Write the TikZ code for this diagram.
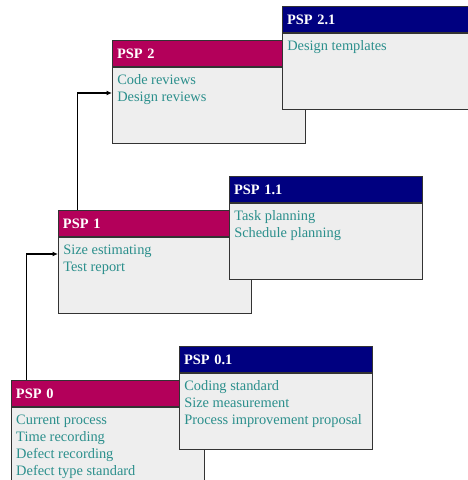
\documentclass[tikz,border=0pt]{standalone}
\usepackage{fontspec}
\setmainfont{Liberation Serif}
\usetikzlibrary{arrows.meta,calc}

\definecolor{pspred}{HTML}{B3005A}
\definecolor{pspblue}{HTML}{000080}
\definecolor{pspbody}{HTML}{EEEEEE}
\definecolor{pspitem}{HTML}{2B8F8C}
\definecolor{pspline}{HTML}{333333}

\begin{document}
\begin{tikzpicture}[
  x=1pt, y=-1pt,
  head/.style={draw=pspline, line width=1pt, anchor=north west, text width=184pt,
               inner xsep=4.5pt, minimum height=26pt, align=left, text=white,
               font=\fontsize{14.4}{16}\selectfont\bfseries},
  mainhead/.style={head, fill=pspred},
  subhead/.style={head, fill=pspblue},
  body/.style={draw=pspline, line width=1pt, fill=pspbody, anchor=north west,
               text width=184pt, inner xsep=4.5pt, minimum height=76pt},
  items/.style={anchor=north west, align=left, inner sep=0pt, text=pspitem,
                font=\fontsize{14.4}{17}\selectfont},
  >={Latex[length=5.5pt,width=5pt]}, line width=1.1pt
]
  \useasboundingbox (0,0) rectangle (467,480);

  % level 0
  \node[mainhead] (psp0)      at (11,380)           {PSP 0};
  \node[body]     (psp0body)  at (psp0.south west)  {};
  \node[items]    (psp0list)  at ($(psp0body.north west)+(4.7,7.3)$)
    {Current process\\Time recording\\Defect recording\\Defect type standard};
  \node[subhead]  (psp01)     at (179,346)          {PSP 0.1};
  \node[body]     (psp01body) at (psp01.south west) {};
  \node[items]    (psp01list) at ($(psp01body.north west)+(4.7,7.3)$)
    {Coding standard\\Size measurement\\Process improvement proposal};

  % level 1
  \node[mainhead] (psp1)      at (58,210)           {PSP 1};
  \node[body]     (psp1body)  at (psp1.south west)  {};
  \node[items]    (psp1list)  at ($(psp1body.north west)+(4.7,7.3)$)
    {Size estimating\\Test report};
  \node[subhead]  (psp11)     at (229,176)          {PSP 1.1};
  \node[body]     (psp11body) at (psp11.south west) {};
  \node[items]    (psp11list) at ($(psp11body.north west)+(4.7,7.3)$)
    {Task planning\\Schedule planning};

  % level 2
  \node[mainhead] (psp2)      at (112,40)           {PSP 2};
  \node[body]     (psp2body)  at (psp2.south west)  {};
  \node[items]    (psp2list)  at ($(psp2body.north west)+(4.7,7.3)$)
    {Code reviews\\Design reviews};
  \node[subhead]  (psp21)     at (282,6)            {PSP 2.1};
  \node[body]     (psp21body) at (psp21.south west) {};
  \node[items]    (psp21list) at ($(psp21body.north west)+(4.7,7.3)$)
    {Design templates};

  % steps up
  \draw[->] ([xshift=15.7pt]psp0.north west) |- ([yshift=-17pt]psp1body.north west);
  \draw[->] ([xshift=19.7pt]psp1.north west) |- ([yshift=-26pt]psp2body.north west);
\end{tikzpicture}
\end{document}
